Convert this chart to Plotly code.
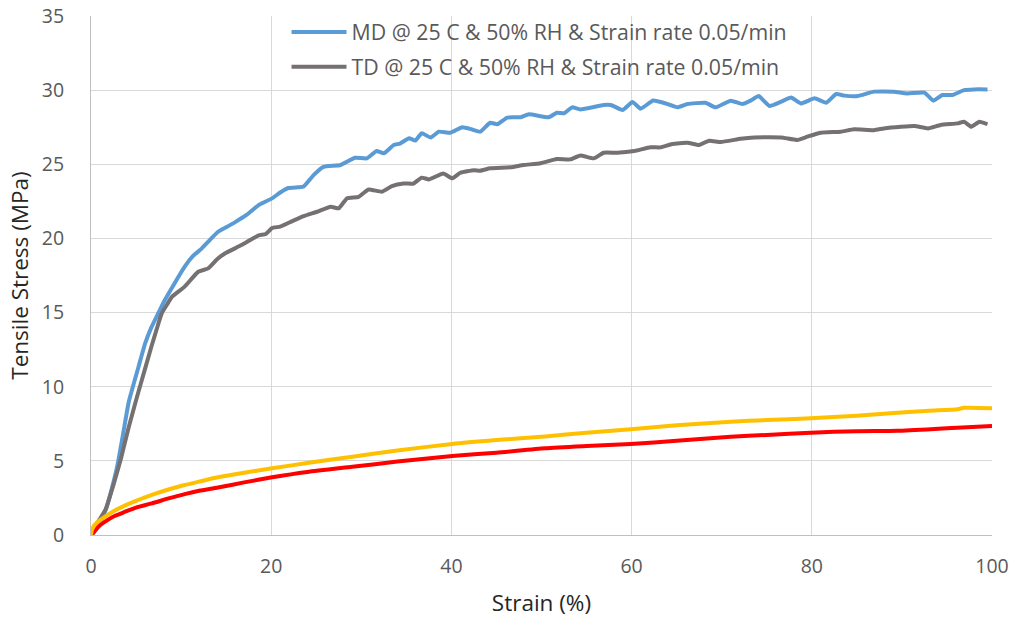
import plotly.graph_objects as go

md_strain = [0, 0.5, 1.0, 1.7, 2.3, 2.9, 3.5, 4.2, 5.3, 6.0, 6.7, 7.5, 8.2, 9.3, 10.4, 11.3, 12.3, 13.2, 14.1, 15.0,
             16.0, 17.3, 18.6, 20.1, 21.0, 21.9, 23.0, 23.6, 24.7, 25.8, 27.7, 29.3, 30.6, 31.7, 32.5, 33.6, 34.3,
             35.3, 36.0, 36.7, 37.7, 38.6, 39.9, 41.2, 42.3, 43.2, 44.3, 45.1, 46.2, 47.7, 48.6, 50.8, 51.7, 52.5,
             53.4, 54.3, 56.9, 57.7, 59.0, 60.1, 61.0, 62.4, 63.8, 65.1, 66.2, 68.2, 69.3, 71.0, 72.3, 73.2, 74.1,
             75.3, 76.6, 77.7, 78.8, 80.3, 81.6, 82.7, 83.6, 85.1, 86.9, 89.1, 90.6, 92.5, 93.5, 94.5, 95.6, 96.9,
             98.0, 99.5]
md_stress = [0, 0.3, 0.8, 1.8, 3.1, 4.6, 6.6, 9.0, 11.4, 12.9, 14.0, 15.0, 15.85, 17.0, 18.1, 18.8, 19.33, 19.9,
             20.45, 20.75, 21.1, 21.6, 22.25, 22.7, 23.1, 23.4, 23.45, 23.5, 24.27, 24.83, 24.95, 25.44, 25.4, 25.9,
             25.74, 26.3, 26.4, 26.75, 26.6, 27.1, 26.8, 27.2, 27.13, 27.5, 27.35, 27.2, 27.8, 27.7, 28.15, 28.17,
             28.37, 28.17, 28.48, 28.44, 28.84, 28.7, 29.0, 29.0, 28.66, 29.2, 28.75, 29.3, 29.1, 28.84, 29.06,
             29.15, 28.84, 29.29, 29.06, 29.29, 29.6, 28.93, 29.22, 29.5, 29.1, 29.45, 29.15, 29.74, 29.63, 29.6,
             29.9, 29.9, 29.78, 29.83, 29.29, 29.67, 29.67, 30.0, 30.05, 30.05]

td_strain = [0, 0.5, 1.0, 1.6, 2.5, 3.3, 4.2, 5.1, 5.9, 6.7, 7.3, 7.85, 8.5, 9.0, 10.4, 11.9, 13.0, 14.0, 14.9,
             16.7, 18.6, 19.4, 20.1, 21.0, 22.1, 23.6, 25.1, 26.6, 27.5, 28.4, 29.7, 30.8, 32.3, 33.4, 34.7, 35.8,
             36.7, 37.5, 39.1, 40.1, 41.0, 42.5, 43.2, 44.3, 46.6, 48.0, 49.9, 51.7, 53.2, 54.3, 55.8, 56.9, 58.4,
             60.3, 62.1, 63.2, 64.5, 66.2, 67.5, 68.6, 69.9, 72.1, 73.6, 76.6, 78.4, 79.5, 81.0, 83.2, 84.7, 86.9,
             88.0, 89.9, 91.4, 92.9, 94.3, 96.2, 96.9, 97.7, 98.6, 99.5]
td_stress = [0, 0.6, 1.1, 1.7, 3.4, 5.1, 7.3, 9.3, 11.0, 12.7, 13.9, 14.95, 15.6, 16.07, 16.75, 17.75, 17.98, 18.6,
             19.0, 19.55, 20.2, 20.3, 20.7, 20.8, 21.1, 21.5, 21.8, 22.14, 22.03, 22.7, 22.8, 23.3, 23.15, 23.53,
             23.7, 23.7, 24.1, 23.98, 24.38, 24.05, 24.43, 24.6, 24.57, 24.73, 24.8, 24.95, 25.07, 25.35, 25.33,
             25.6, 25.4, 25.78, 25.78, 25.9, 26.15, 26.14, 26.37, 26.45, 26.3, 26.59, 26.5, 26.72, 26.81, 26.81,
             26.64, 26.86, 27.13, 27.2, 27.36, 27.3, 27.42, 27.53, 27.58, 27.42, 27.65, 27.76, 27.87, 27.53, 27.87,
             27.7]

yel_strain = [0, 0.1, 0.44, 1.0, 1.56, 2.5, 3.8, 5.0, 6.74, 8.5, 10.4, 12.0, 14.1, 17.0, 20.1, 24.0, 29.0, 34.0,
              40.1, 45.0, 50.4, 55.0, 59.9, 65.0, 71.0, 75.0, 79.9, 85.0, 89.5, 93.0, 96.2, 96.9, 100.0]
yel_stress = [0, 0.35, 0.7, 1.0, 1.24, 1.6, 2.0, 2.3, 2.7, 3.05, 3.37, 3.6, 3.89, 4.2, 4.5, 4.85, 5.28, 5.7,
              6.14, 6.4, 6.65, 6.9, 7.13, 7.4, 7.64, 7.75, 7.87, 8.05, 8.25, 8.38, 8.48, 8.58, 8.55]

red_strain = [0, 0.2, 0.44, 1.0, 1.56, 2.5, 3.8, 5.0, 6.74, 8.5, 10.4, 12.0, 14.1, 17.0, 20.1, 24.0, 29.0, 34.0,
              40.1, 45.0, 50.4, 55.0, 59.9, 65.0, 71.0, 75.0, 79.9, 85.0, 89.5, 95.0, 100.0]
red_stress = [0, 0.1, 0.3, 0.65, 0.9, 1.25, 1.57, 1.85, 2.13, 2.45, 2.76, 2.98, 3.2, 3.55, 3.89, 4.25, 4.6, 4.95,
              5.33, 5.55, 5.85, 6.0, 6.14, 6.35, 6.63, 6.75, 6.9, 7.0, 7.03, 7.2, 7.35]

md_name = "MD @ 25 C & 50% RH & Strain rate 0.05/min"
td_name = "TD @ 25 C & 50% RH & Strain rate 0.05/min"

FONT = "Open Sans"
TXT = "#595959"

fig = go.Figure()
fig.add_trace(go.Scatter(x=md_strain, y=md_stress, mode="lines", name=md_name, legend="legend",
                         line=dict(color="#5B9BD5", width=4, shape="spline", smoothing=0.4)))
fig.add_trace(go.Scatter(x=td_strain, y=td_stress, mode="lines", name=td_name, legend="legend2",
                         line=dict(color="#767171", width=4, shape="spline", smoothing=0.4)))
fig.add_trace(go.Scatter(x=red_strain, y=red_stress, mode="lines", showlegend=False,
                         line=dict(color="#FF0000", width=4, shape="spline", smoothing=0.6)))
fig.add_trace(go.Scatter(x=yel_strain, y=yel_stress, mode="lines", showlegend=False,
                         line=dict(color="#FFC000", width=4, shape="spline", smoothing=0.6)))

legend_common = dict(bgcolor="rgba(0,0,0,0)", font=dict(family=FONT, size=21.3, color=TXT),
                     xanchor="left", yanchor="middle", itemwidth=55, borderwidth=0)

fig.update_layout(
    width=1013, height=619,
    margin=dict(l=91, r=21, t=16, b=84, autoexpand=False),
    paper_bgcolor="white", plot_bgcolor="white",
    font=dict(family=FONT, color=TXT),
    legend=dict(x=0.217, y=0.969, **legend_common),
    legend2=dict(x=0.217, y=0.902, **legend_common),
    xaxis=dict(range=[0, 100], tickvals=[0, 20, 40, 60, 80, 100], showgrid=True, gridcolor="#D9D9D9", gridwidth=1,
               showline=True, linecolor="#BFBFBF", linewidth=1, zeroline=False, ticks="",
               tickfont=dict(family=FONT, size=19.5, color=TXT), ticklabelstandoff=14,
               title=dict(text="Strain (%)", font=dict(family=FONT, size=22.5, color="#262626"), standoff=16)),
    yaxis=dict(range=[0, 35], tickvals=[0, 5, 10, 15, 20, 25, 30, 35], showgrid=True, gridcolor="#D9D9D9", gridwidth=1,
               showline=True, linecolor="#BFBFBF", linewidth=1, zeroline=False, ticks="",
               tickfont=dict(family=FONT, size=19.5, color=TXT), ticklabelstandoff=22,
               title=dict(text="Tensile Stress (MPa)", font=dict(family=FONT, size=22.5, color="#262626"), standoff=6)),
)

fig.write_html("out.html")
